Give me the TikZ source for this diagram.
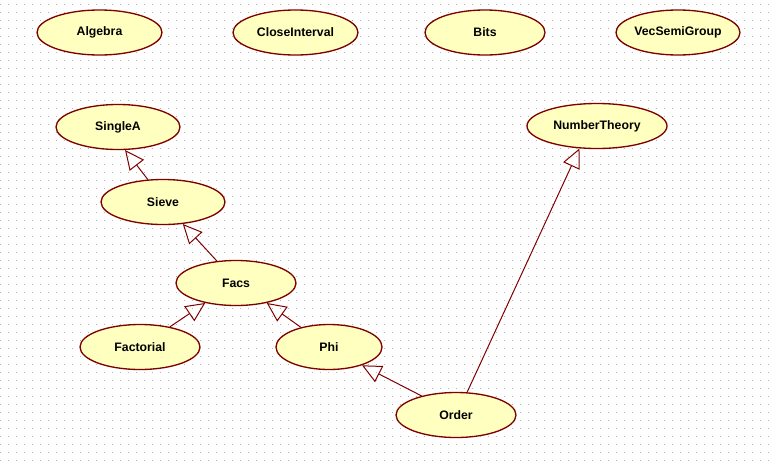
\documentclass[tikz,border=0pt]{standalone}
\usepackage{fontspec}
\setmainfont{Liberation Sans}
\usetikzlibrary{shapes.geometric,arrows.meta}
\definecolor{umlred}{HTML}{800000}
\definecolor{umlfill}{HTML}{FFFFC0}
\definecolor{griddot}{HTML}{B4B4B4}
\tikzset{
  umlclass/.style={ellipse,draw=umlred,fill=umlfill,line width=1pt,inner sep=0pt,
    minimum width=#1,minimum height=33.75pt,font=\fontsize{9.2pt}{10pt}\selectfont\bfseries},
  umlclass/.default=93pt,
  generalize/.style={draw=umlred,line width=0.75pt,-{Triangle[open,length=14.5pt,width=13.5pt]}}
}
\begin{document}
\begin{tikzpicture}[x=0.75pt,y=0.75pt,yscale=-1,xscale=1]
\useasboundingbox (0,0) rectangle (770,468);
\fill[white] (0,0) rectangle (770,468);
%Grid of dots
\foreach \j in {0,...,57}
  \draw[griddot,line width=0.75pt,dash pattern=on 0.75pt off 5.25pt] (-0.5,4+8*\j) -- (770,4+8*\j);

%Classes, top row
\node[umlclass=93.75pt] (algebra) at (99.5,32.5) {Algebra};
\node[umlclass=93.75pt] (closeinterval) at (295.5,32.5) {CloseInterval};
\node[umlclass=90pt] (bits) at (485,32.5) {Bits};
\node[umlclass] (vecsemigroup) at (678,32.5) {VecSemiGroup};

%Classes, hierarchy
\node[umlclass] (singlea) at (118,127) {SingleA};
\node[umlclass=105pt] (numbertheory) at (597,126) {NumberTheory};
\node[umlclass] (sieve) at (163,202) {Sieve};
\node[umlclass=90pt] (facs) at (236,283) {Facs};
\node[umlclass=90pt] (factorial) at (140,347) {Factorial};
\node[umlclass=79.5pt] (phi) at (329,347) {Phi};
\node[umlclass=90pt] (order) at (456,415) {Order};

%Generalizations
\draw[generalize] (sieve.124) -- (singlea.287);
\draw[generalize] (facs.131) -- (sieve.312);
\draw[generalize] (factorial.34) -- (facs.213);
\draw[generalize] (phi.145) -- (facs.327);
\draw[generalize] (order.151) -- (phi.331);
\draw[generalize] (order.64) -- (numbertheory.232);

\end{tikzpicture}
\end{document}
